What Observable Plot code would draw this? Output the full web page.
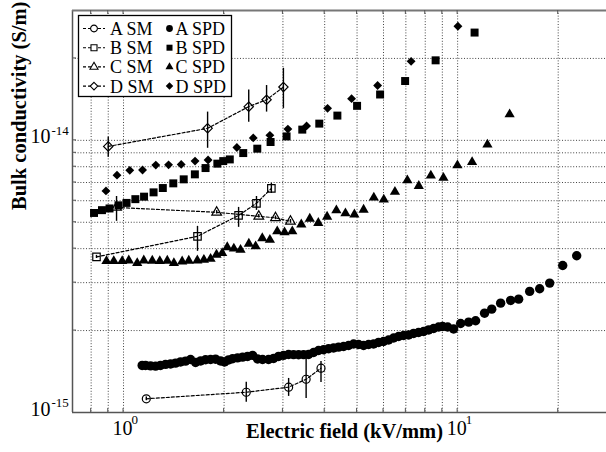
<!DOCTYPE html>
<html><head><meta charset="utf-8">
<script src="https://cdn.jsdelivr.net/npm/d3@7"></script>
<script src="https://cdn.jsdelivr.net/npm/@observablehq/plot@0.6"></script>
<style>body{margin:0;background:#fff} svg{display:block} svg text{font-family:"Liberation Serif","Times New Roman",serif}</style>
</head><body><div id="chart"></div>
<script>
// ---------- data (Electric field kV/mm, bulk conductivity S/m) ----------
const aSmE  = [1.17, 2.33, 3.12, 3.52, 3.90];
const aSmS  = [1.123e-15, 1.187e-15, 1.239e-15, 1.325e-15, 1.455e-15];
const aSmLo = [1.105e-15, 1.091e-15, 1.146e-15, 1.126e-15, 1.289e-15];
const aSmHi = [1.141e-15, 1.292e-15, 1.334e-15, 1.592e-15, 1.540e-15];

const bSmE  = [0.83, 1.665, 2.21, 2.50, 2.77];
const bSmS  = [3.73e-15, 4.44e-15, 5.30e-15, 5.87e-15, 6.66e-15];
const bSmLo = [3.68e-15, 3.91e-15, 4.79e-15, 5.53e-15, 6.38e-15];
const bSmHi = [3.78e-15, 4.83e-15, 5.67e-15, 6.22e-15, 6.95e-15];

const cSmE  = [0.953, 1.90, 2.54, 2.85, 3.16];
const cSmS  = [5.67e-15, 5.44e-15, 5.26e-15, 5.19e-15, 5.04e-15];
const cSmLo = [5.04e-15, 5.36e-15, 5.18e-15, 5.11e-15, 4.96e-15];
const cSmHi = [6.22e-15, 5.52e-15, 5.34e-15, 5.27e-15, 5.12e-15];

const dSmE  = [0.90, 1.785, 2.37, 2.68, 3.01];
const dSmS  = [9.5e-15, 1.107e-14, 1.33e-14, 1.41e-14, 1.57e-14];
const dSmLo = [8.66e-15, 9.35e-15, 1.165e-14, 1.27e-14, 1.31e-14];
const dSmHi = [1.026e-14, 1.27e-14, 1.53e-14, 1.59e-14, 1.84e-14];

const aSpdE = [1.137,1.164,1.205,1.247,1.290,1.336,1.383,1.431,1.481,1.533,1.587,1.643,1.701,1.760,1.822,1.886,1.952,2.006,2.062,2.120,2.194,2.272,2.351,2.434,2.519,2.607,2.717,2.813,2.911,3.013,3.119,3.228,3.342,3.459,3.580,3.706,3.835,3.970,4.109,4.253,4.402,4.557,4.717,4.882,5.053,5.231,5.414,5.604,5.800,6.003,6.214,6.432,6.658,6.891,7.133,7.383,7.641,7.910,8.188,8.475,8.772,9.018,9.335,9.728,10.21,10.79,11.32,12.04,12.65,13.45,14.41,15.23,16.43,17.60,18.86,20.63,22.72];
const aSpdS = [1.489e-15,1.489e-15,1.483e-15,1.480e-15,1.489e-15,1.502e-15,1.508e-15,1.518e-15,1.534e-15,1.544e-15,1.566e-15,1.527e-15,1.547e-15,1.562e-15,1.566e-15,1.570e-15,1.547e-15,1.534e-15,1.560e-15,1.576e-15,1.587e-15,1.598e-15,1.607e-15,1.621e-15,1.573e-15,1.566e-15,1.566e-15,1.580e-15,1.607e-15,1.621e-15,1.634e-15,1.632e-15,1.630e-15,1.632e-15,1.634e-15,1.662e-15,1.690e-15,1.700e-15,1.715e-15,1.726e-15,1.738e-15,1.748e-15,1.763e-15,1.786e-15,1.778e-15,1.763e-15,1.778e-15,1.786e-15,1.809e-15,1.824e-15,1.847e-15,1.879e-15,1.903e-15,1.919e-15,1.927e-15,1.952e-15,1.968e-15,1.985e-15,2.011e-15,2.036e-15,2.062e-15,2.071e-15,2.062e-15,2.028e-15,2.124e-15,2.148e-15,2.173e-15,2.317e-15,2.397e-15,2.522e-15,2.581e-15,2.609e-15,2.786e-15,2.850e-15,2.988e-15,3.470e-15,3.768e-15];

const bSpdE = [0.816,0.862,0.908,0.966,1.021,1.085,1.152,1.230,1.311,1.409,1.514,1.635,1.760,1.909,1.988,2.080,2.282,2.514,2.755,3.076,3.428,3.854,4.366,5.001,5.861,6.964,8.593,11.24];
const bSpdS = [5.41e-15,5.54e-15,5.62e-15,5.77e-15,5.89e-15,6.08e-15,6.21e-15,6.44e-15,6.68e-15,6.95e-15,7.19e-15,7.50e-15,7.91e-15,8.21e-15,8.39e-15,8.51e-15,8.98e-15,9.32e-15,9.86e-15,1.034e-14,1.095e-14,1.152e-14,1.233e-14,1.339e-14,1.474e-14,1.652e-14,1.968e-14,2.489e-14];

const cSpdE = [0.889,0.935,0.991,1.037,1.099,1.150,1.219,1.284,1.352,1.415,1.498,1.568,1.663,1.740,1.822,1.898,1.974,2.044,2.139,2.240,2.372,2.485,2.602,2.742,2.885,3.034,3.200,3.405,3.610,3.828,4.068,4.336,4.615,4.909,5.231,5.612,6.012,6.492,7.073,7.652,8.314,9.068,9.986,11.05,12.28,14.31];
const cSpdS = [3.60e-15,3.60e-15,3.60e-15,3.62e-15,3.54e-15,3.62e-15,3.61e-15,3.60e-15,3.61e-15,3.54e-15,3.59e-15,3.61e-15,3.62e-15,3.64e-15,3.67e-15,3.80e-15,3.85e-15,4.05e-15,4.00e-15,3.96e-15,4.17e-15,4.08e-15,4.37e-15,4.31e-15,4.63e-15,4.59e-15,4.63e-15,4.91e-15,5.15e-15,4.97e-15,5.24e-15,5.53e-15,5.39e-15,5.34e-15,5.56e-15,6.16e-15,6.06e-15,6.47e-15,7.13e-15,6.80e-15,7.42e-15,7.28e-15,8.09e-15,8.32e-15,9.65e-15,1.246e-14];

const dSpdE = [0.886,0.956,1.044,1.140,1.249,1.364,1.488,1.637,1.791,2.184,2.445,2.742,3.104,3.531,4.081,4.815,5.761,7.257,10.02];
const dSpdS = [6.52e-15,7.45e-15,7.76e-15,7.78e-15,8.11e-15,8.13e-15,8.16e-15,8.39e-15,8.47e-15,9.41e-15,1.021e-14,1.043e-14,1.100e-14,1.130e-14,1.311e-14,1.423e-14,1.590e-14,1.951e-14,2.625e-14];

// ---------- axes ----------
const xDomain = [0.7035, 27.9];
const yDomain = [1e-15, 3e-14];
const xGrid = [0.8, 0.9, 1, 2, 3, 4, 5, 6, 7, 8, 9, 10, 20];
const yGrid = [2e-15, 3e-15, 4e-15, 5e-15, 6e-15, 7e-15, 8e-15, 9e-15, 1e-14, 2e-14];
const xLabelTicks = [1, 10];
const xLabelExp = ["0", "1"];
const yLabelTicks = [1e-14, 1e-15];
const yLabelExp = ["-14", "-15"];
const xTitle = "Electric field (kV/mm)";
const yTitle = "Bulk conductivity (S/m)";
const smLabels = ["A SM", "B SM", "C SM", "D SM"];
const spdLabels = ["A SPD", "B SPD", "C SPD", "D SPD"];

const rows = (E, S, lo, hi) => E.map((e, i) => ({e, s: S[i], lo: lo ? lo[i] : undefined, hi: hi ? hi[i] : undefined}));
const aSm = rows(aSmE, aSmS, aSmLo, aSmHi);
const bSm = rows(bSmE, bSmS, bSmLo, bSmHi);
const cSm = rows(cSmE, cSmS, cSmLo, cSmHi);
const dSm = rows(dSmE, dSmS, dSmLo, dSmHi);
const aSpd = rows(aSpdE, aSpdS), bSpd = rows(bSpdE, bSpdS), cSpd = rows(cSpdE, cSpdS), dSpd = rows(dSpdE, dSpdS);

const serif = "Liberation Serif";
const gridColor = "#444";
const smSets = [aSm, bSm, cSm, dSm];
const smSymbols = ["circle", "square", "triangle", "diamond2"];
const smR = [4, 4.2, 3.6, 4.2];
const txt = {fontFamily: serif, fill: "black"};

const plot = Plot.plot({
  width: 606, height: 452,
  marginLeft: 72, marginRight: 0, marginTop: 10, marginBottom: 40,
  x: {type: "log", domain: xDomain, axis: null},
  y: {type: "log", domain: yDomain, axis: null},
  style: {background: "white", color: "black"},
  marks: [
    Plot.ruleX(xGrid, {stroke: gridColor, strokeWidth: 1, strokeDasharray: "1,1.8"}),
    Plot.ruleY(yGrid, {stroke: gridColor, strokeWidth: 1, strokeDasharray: "1,1.8"}),
    ...smSets.map(d => Plot.line(d, {x: "e", y: "s", stroke: "black", strokeWidth: 1.2, strokeDasharray: "3,2"})),
    ...smSets.map(d => Plot.ruleX(d, {x: "e", y1: "lo", y2: "hi", stroke: "black", strokeWidth: 1.4})),
    ...smSets.map((d, i) => Plot.dot(d, {x: "e", y: "s", symbol: smSymbols[i], r: smR[i], fill: "none", stroke: "black", strokeWidth: 1.2})),
    Plot.dot(aSpd, {x: "e", y: "s", symbol: "circle", r: 4.7, fill: "black"}),
    Plot.dot(bSpd, {x: "e", y: "s", symbol: "square", r: 4.5, fill: "black"}),
    Plot.dot(cSpd, {x: "e", y: "s", symbol: "triangle", r: 3.8, fill: "black"}),
    Plot.dot(dSpd, {x: "e", y: "s", symbol: "diamond2", r: 4, fill: "black"}),
    Plot.ruleX([xDomain[0]], {stroke: "#555", strokeWidth: 1.5}),
    Plot.ruleY([yDomain[0]], {stroke: "#555", strokeWidth: 1.5}),
    Plot.ruleY([yDomain[1]], {stroke: "#777", strokeWidth: 2}),
    Plot.text(xLabelTicks, {...txt, x: d => d, frameAnchor: "bottom", text: () => "10", textAnchor: "end", dx: 9, dy: 22.7, fontSize: 20}),
    Plot.text(xLabelTicks, {...txt, x: d => d, frameAnchor: "bottom", text: (d, i) => xLabelExp[i], textAnchor: "start", dx: 8, dy: 11.6, fontSize: 13}),
    Plot.text(yLabelTicks, {...txt, y: d => d, frameAnchor: "left", text: () => "10", textAnchor: "end", dx: -22, dy: -3.4, fontSize: 20}),
    Plot.text(yLabelTicks, {...txt, y: d => d, frameAnchor: "left", text: (d, i) => yLabelExp[i], textAnchor: "start", dx: -21, dy: -10, fontSize: 13}),
    Plot.text([xTitle], {...txt, frameAnchor: "bottom", dx: 5, dy: 25.4, fontSize: 20.5, fontWeight: "bold"}),
    Plot.text([yTitle], {...txt, frameAnchor: "left", dx: -53.5, dy: -1.5, rotate: -90, fontSize: 20.5, fontWeight: "bold"})
  ]
});

document.getElementById("chart").appendChild(plot);

const svg = d3.select(plot).attr("font-family", serif);
const xS = plot.scale("x"), yS = plot.scale("y");
const yTop = yS.apply(yDomain[1]), yBot = yS.apply(yDomain[0]), xLeft = xS.apply(xDomain[0]);
const tg = svg.append("g").attr("stroke", "#555").attr("stroke-width", 1);
xGrid.forEach(t => {
  const px = xS.apply(t);
  tg.append("line").attr("x1", px).attr("x2", px).attr("y1", yTop).attr("y2", yTop + 4);
  tg.append("line").attr("x1", px).attr("x2", px).attr("y1", yBot).attr("y2", yBot - 4);
});
yGrid.forEach(t => {
  const py = yS.apply(t);
  tg.append("line").attr("x1", xLeft).attr("x2", xLeft + 4).attr("y1", py).attr("y2", py);
});

// legend
const leg = svg.append("g").attr("font-family", serif).attr("font-size", 18)
  .attr("fill", "black").attr("text-anchor", "start");
leg.append("rect").attr("x", 78.5).attr("y", 15.5).attr("width", 153).attr("height", 81)
  .attr("fill", "white").attr("stroke", "black").attr("stroke-width", 1.3);
const d3Sym = [d3.symbolCircle, d3.symbolSquare, d3.symbolTriangle, d3.symbolDiamond2];
const legR = [3.4, 3.4, 3.0, 3.4];
smLabels.forEach((lab, i) => {
  const cy = 28.5 + 19.2 * i;
  leg.append("line").attr("x1", 83).attr("x2", 105).attr("y1", cy).attr("y2", cy)
    .attr("stroke", "black").attr("stroke-width", 1.1).attr("stroke-dasharray", "3,2");
  leg.append("path").attr("transform", `translate(94,${cy})`)
    .attr("d", d3.symbol(d3Sym[i], Math.PI * legR[i] * legR[i])())
    .attr("fill", "white").attr("stroke", "black").attr("stroke-width", 1.1);
  leg.append("text").attr("x", 110).attr("y", cy + 6.5).attr("text-anchor", "start").text(lab);
  leg.append("path").attr("transform", `translate(169.5,${cy})`)
    .attr("d", d3.symbol(d3Sym[i], Math.PI * legR[i] * legR[i])())
    .attr("fill", "black");
  leg.append("text").attr("x", 175.5).attr("y", cy + 6.5).attr("text-anchor", "start").text(spdLabels[i]);
});
</script></body></html>
